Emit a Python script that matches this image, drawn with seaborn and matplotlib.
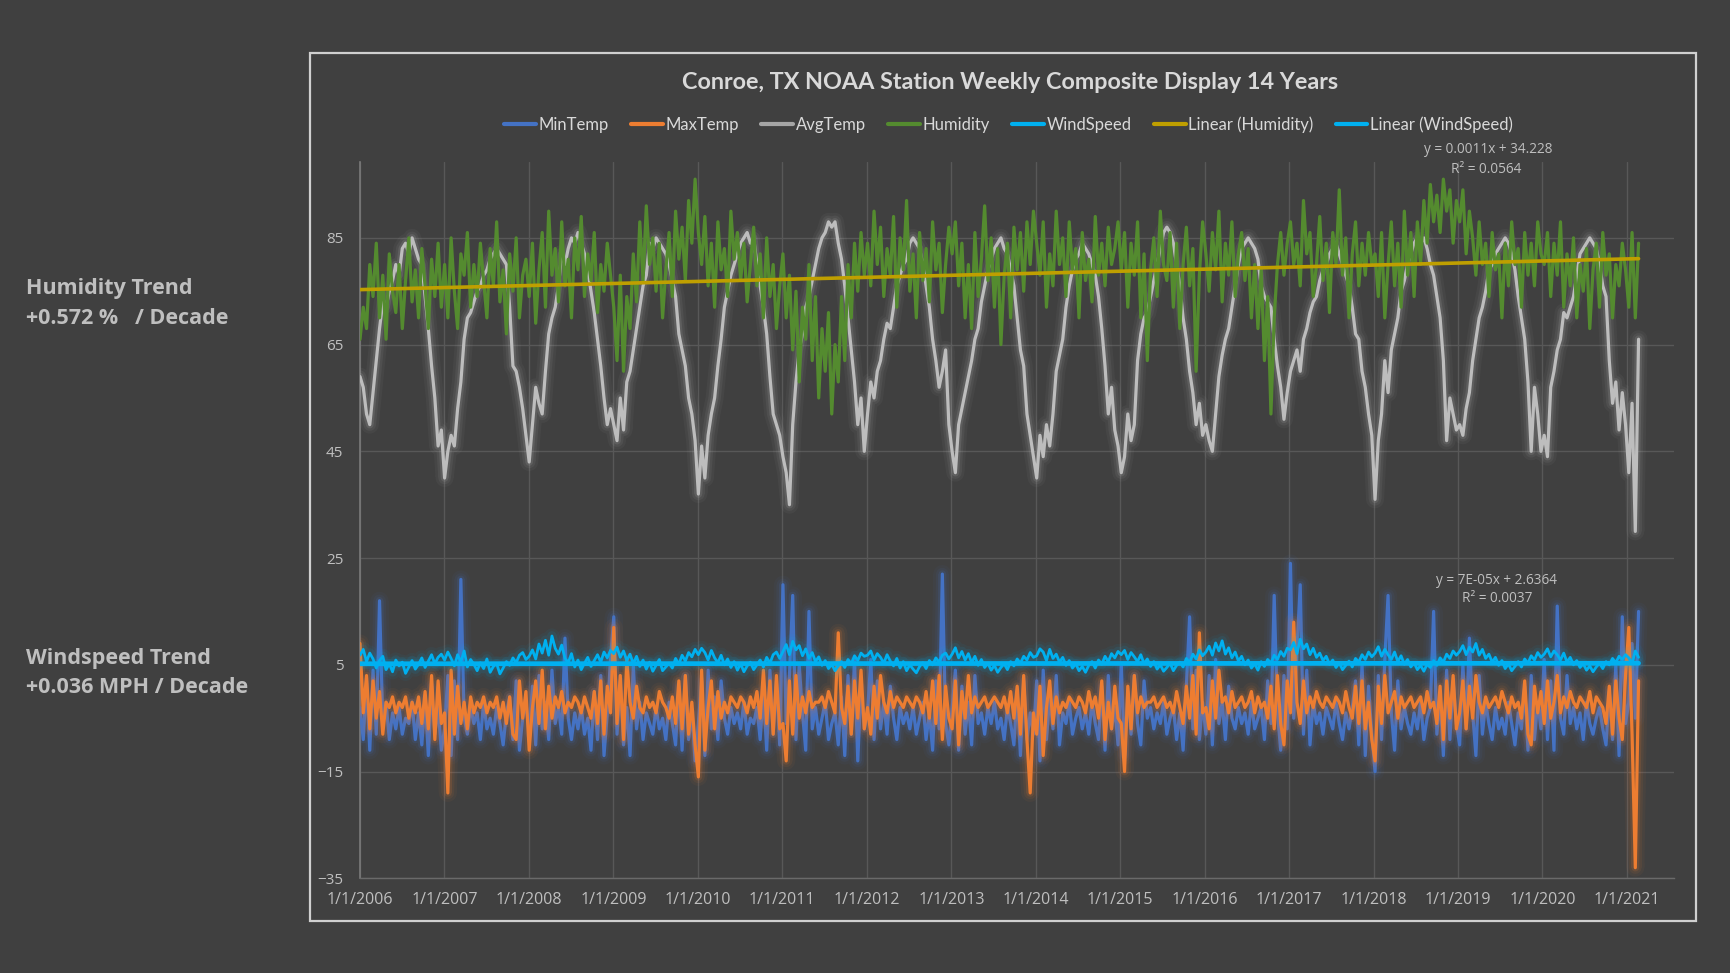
"""
Conroe, TX NOAA weekly composite - recreated chart
"""

import numpy as np
import pandas as pd
import matplotlib
matplotlib.use('Agg')
import matplotlib.pyplot as plt
import matplotlib.patheffects as pe
from matplotlib.lines import Line2D
from matplotlib.patches import Rectangle
import seaborn as sns

# values, roughly two points a month, one line per year
min_temp = [
    -3, -9, 2, -11, 4, -8, 17, -6, -2, -9, -4, -7, -3, -8, -5, -6, -2, -9, -4, -10, -1, -12, 1, -8, -3, -11,
    -7, 3, -12, 2, -9, 21, -5, -8, -3, -6, -4, -9, -2, -7, -5, -8, -3, -6, -10, -4, -1, -9, 2, -11, -5, -2,
    -8, 1, -10, 3, -7, -2, -9, 4, -6, -3, -8, 10, -5, -9, -4, -7, -3, -8, -5, -11, 0, -9, 3, -12, -4, 6,
    14, -8, 2, -10, -3, -12, 5, -7, -2, -9, -4, -6, -8, -3, -7, -5, -9, -2, -6, -10, 1, -11, 3, -9, -4, -13,
    -6, 2, -12, 4, -7, -1, -9, 2, -5, -8, -3, -6, -4, -7, -2, -8, -5, -6, -3, -9, 0, -11, 4, -8, 2, -10,
    20, -6, 3, 18, -9, 5, -4, -11, 15, -7, -3, -8, -5, -2, -9, -6, -4, -10, -1, -12, 3, -8, 6, -13, 1, -7,
    -4, 6, -9, 2, -7, -2, -8, 1, -5, -9, -3, -6, -4, -7, -3, -8, -5, -2, -9, -4, -11, 2, -7, 22, -6, -10,
    -3, 4, -11, 1, -8, -2, -10, 3, -6, -4, -8, -3, -6, -2, -7, -5, -9, -3, -6, -10, 0, -12, 2, -9, -4, -8,
    2, -13, 4, -9, -1, -7, 3, -10, -4, -6, -2, -8, -5, -3, -7, -4, -8, -2, -6, -9, 1, -11, 3, -7, -3, -10,
    5, -12, 0, -8, 3, -6, -10, 2, -5, -3, -7, -4, -6, -2, -8, -5, -3, -9, -4, -11, 1, 14, -7, 4, -9, -2,
    -8, 3, -10, 6, -6, -2, -9, 1, -5, -7, -3, -6, -4, -8, -2, -7, -5, -3, -9, 2, -6, 18, -4, -11, 3, -7,
    24, -5, 8, 20, -8, 4, -10, -2, -6, -4, -8, -3, -5, -7, -2, -6, -9, -4, -7, -3, 2, -10, 5, -12, 1, -8,
    -15, 3, -9, 6, 18, -4, -11, 2, -7, -3, -6, -8, -4, -7, -2, -9, -5, -3, 15, -8, -1, -12, 4, -9, 2, -6,
    -10, 5, -7, 10, -4, -12, 3, -8, -2, -6, -9, -3, -7, -5, -8, -2, -6, -10, -4, -7, 1, -11, 3, -9, -2, -7,
    6, -9, 2, -11, 16, -5, -8, 3, -6, -3, -7, -4, -9, -2, -6, -8, -5, -3, -7, -10, 0, -9, 5, -12, 14, -6,
    -2, 9, -5, 15,
]

max_temp = [
    9, -4, 3, -7, 2, -5, 0, -8, -2, -3, -1, -4, -2, -3, -1, -5, -2, -4, -1, -6, 0, -7, 3, -9, 2, -6,
    -4, -19, 4, -8, 1, -6, -2, -7, -1, -4, -2, -3, -1, -4, -2, -3, -1, -5, -2, -6, -1, -8, -9, 2, -5, 0,
    -11, -3, 2, -6, 4, -7, 1, -5, -1, -3, 0, -4, -2, -3, -1, -2, -4, -1, -3, -5, 0, -6, 2, -8, 1, -4,
    12, -6, 3, -9, 6, -2, -5, 1, -3, -4, -1, -3, -2, -4, 0, -2, -3, -5, -1, -6, 2, -7, 3, -8, -2, -10,
    -16, 4, -11, -3, 2, -7, 0, -5, -2, -4, -1, -2, -3, -1, -2, -4, -1, -3, 0, -5, 4, -6, 2, -8, 3, -7,
    -6, -13, 2, -8, 3, -5, -1, -4, 0, -3, -2, -2, -1, -3, 0, -2, -4, 11, -3, -6, 1, -8, 2, -5, 4, -7,
    -3, -8, 1, -5, 3, -2, -4, 0, -3, -1, -2, -3, -1, -2, -3, -1, -2, -4, 0, -5, 2, -6, 3, -9, 1, -5,
    -7, 2, -10, 0, -5, 3, -4, -1, -3, -2, -1, -3, -2, -1, -2, -3, -1, -4, 0, -5, 1, -8, 3, -9, -19, -4,
    -8, 1, -12, -3, 2, -6, -1, -4, -2, -3, -1, -2, -3, -1, -2, -4, 0, -3, -1, -5, 2, -9, -2, -7, 1, -5,
    -6, -15, 1, -7, 3, -4, -1, -3, -2, -2, -1, -3, -2, -1, -3, -2, -4, 0, -3, -6, 1, -5, 3, -8, 11, -4,
    -3, -7, 2, -5, 4, -2, -1, -4, 0, -3, -2, -1, -3, -2, 0, -4, -1, -3, -2, -5, 1, -7, 3, -6, -10, 2,
    -4, 13, -2, -6, 2, -4, -1, -3, 0, -2, -3, -1, -2, -3, -1, -2, -4, 0, -3, -5, 1, -6, 2, -7, -2, -9,
    -13, 1, -6, 3, -4, -2, 0, -5, -1, -3, -2, -1, -3, -2, -1, -4, 0, -3, -2, -6, 1, -9, 2, -5, 3, -7,
    -4, 2, -7, 1, -5, 3, -2, -4, -1, -3, -2, -1, -3, 0, -2, -4, -1, -3, -2, -5, 2, -8, -10, 1, -4, 0,
    -6, 2, -5, -2, 3, -4, -1, -3, 0, -2, -3, -1, -2, -3, 0, -4, -1, -2, -3, -6, 1, -8, 2, -5, -9, 3,
    12, -8, -33, 2,
]

avg_temp = [
    59, 57, 52, 50, 56, 62, 68, 73, 72, 75, 77, 80, 78, 83, 84, 82, 85, 83, 81, 80, 74, 68, 61, 55, 46, 49,
    40, 45, 48, 46, 53, 58, 66, 70, 71, 73, 75, 76, 78, 79, 81, 82, 83, 82, 81, 80, 72, 61, 60, 57, 53, 48,
    43, 50, 57, 54, 52, 60, 67, 70, 72, 76, 82, 80, 83, 85, 84, 86, 84, 82, 79, 75, 71, 66, 61, 55, 50, 53,
    50, 47, 55, 49, 58, 60, 64, 68, 72, 76, 78, 84, 83, 85, 84, 83, 82, 80, 77, 74, 67, 64, 61, 55, 52, 47,
    37, 46, 40, 48, 52, 55, 61, 66, 72, 75, 78, 80, 82, 84, 85, 86, 84, 85, 80, 76, 72, 67, 59, 52, 50, 48,
    44, 41, 35, 50, 58, 64, 67, 72, 74, 77, 80, 83, 85, 86, 88, 87, 88, 84, 81, 76, 70, 64, 58, 50, 55, 45,
    52, 58, 55, 60, 62, 66, 69, 68, 72, 76, 78, 80, 81, 84, 85, 84, 83, 80, 76, 72, 66, 62, 57, 60, 64, 50,
    45, 41, 50, 53, 56, 59, 62, 66, 68, 73, 76, 79, 81, 83, 84, 85, 83, 82, 79, 76, 70, 64, 61, 52, 48, 44,
    40, 48, 44, 50, 46, 52, 60, 63, 66, 72, 76, 79, 81, 82, 84, 83, 82, 80, 78, 74, 68, 61, 52, 57, 49, 46,
    41, 44, 52, 47, 50, 62, 67, 70, 71, 74, 77, 80, 83, 86, 87, 86, 84, 80, 76, 70, 66, 60, 56, 50, 54, 48,
    50, 47, 45, 52, 59, 63, 66, 68, 72, 76, 80, 83, 84, 85, 84, 83, 81, 76, 74, 73, 72, 66, 61, 57, 51, 56,
    60, 62, 64, 60, 66, 68, 71, 73, 74, 77, 79, 80, 82, 83, 84, 82, 80, 78, 76, 72, 67, 66, 60, 57, 52, 48,
    36, 47, 52, 62, 56, 64, 67, 70, 75, 77, 80, 82, 84, 85, 84, 85, 83, 80, 78, 74, 70, 62, 47, 55, 52, 49,
    50, 48, 53, 56, 62, 66, 70, 72, 75, 79, 80, 82, 83, 84, 85, 84, 82, 79, 74, 70, 66, 58, 45, 57, 52, 45,
    48, 44, 57, 60, 64, 66, 71, 70, 72, 74, 78, 82, 83, 84, 85, 84, 83, 80, 76, 74, 62, 54, 58, 49, 56, 50,
    41, 54, 30, 66,
]

humidity = [
    66, 72, 68, 80, 74, 84, 70, 78, 66, 82, 75, 71, 80, 68, 77, 85, 73, 79, 70, 83, 76, 68, 81, 74, 84, 72,
    80, 70, 85, 75, 68, 82, 78, 86, 72, 80, 74, 84, 77, 70, 83, 76, 88, 73, 79, 67, 82, 75, 85, 70, 78, 81,
    74, 84, 69, 79, 86, 72, 90, 78, 83, 73, 88, 76, 81, 70, 85, 79, 89, 74, 82, 77, 86, 71, 80, 75, 84, 78,
    72, 62, 78, 60, 74, 68, 82, 73, 88, 77, 91, 80, 85, 75, 84, 70, 79, 86, 74, 90, 81, 87, 77, 92, 84, 96,
    86, 80, 89, 76, 84, 72, 88, 79, 83, 74, 90, 81, 86, 77, 84, 73, 80, 87, 76, 82, 70, 85, 74, 80, 68, 76,
    82, 70, 78, 64, 75, 58, 72, 66, 80, 62, 74, 55, 68, 60, 71, 52, 65, 58, 74, 62, 80, 70, 84, 75, 86, 78,
    84, 76, 90, 80, 87, 74, 83, 78, 89, 72, 85, 79, 92, 75, 82, 70, 86, 77, 83, 73, 88, 79, 84, 71, 80, 87,
    82, 88, 76, 84, 70, 80, 68, 86, 74, 81, 91, 77, 85, 72, 83, 65, 78, 84, 70, 87, 79, 86, 75, 88, 80, 90,
    84, 78, 88, 72, 82, 76, 90, 80, 85, 74, 88, 79, 83, 70, 86, 77, 81, 73, 89, 78, 84, 76, 87, 80, 83, 88,
    79, 86, 72, 84, 78, 88, 70, 82, 62, 79, 85, 74, 90, 80, 77, 86, 72, 84, 68, 80, 87, 76, 83, 60, 78, 88,
    82, 75, 86, 79, 90, 73, 84, 78, 88, 74, 82, 86, 77, 83, 70, 80, 68, 79, 62, 74, 52, 70, 80, 86, 78, 84,
    88, 80, 84, 76, 92, 82, 86, 74, 80, 89, 77, 84, 71, 86, 80, 94, 78, 85, 70, 82, 88, 76, 84, 78, 86, 80,
    82, 74, 86, 70, 80, 88, 76, 84, 72, 90, 78, 86, 74, 88, 80, 92, 84, 95, 88, 93, 86, 96, 90, 94, 84, 92,
    88, 94, 82, 90, 85, 78, 88, 80, 84, 74, 86, 79, 82, 70, 84, 76, 88, 80, 83, 72, 86, 78, 84, 76, 88, 82,
    80, 86, 74, 84, 78, 88, 72, 82, 76, 85, 70, 80, 75, 83, 68, 79, 84, 72, 86, 78, 82, 70, 80, 76, 84, 79,
    72, 86, 70, 84,
]

wind_speed = [
    6.8, 7.9, 5.6, 7.2, 6.1, 4.4, 5.8, 6.6, 4.1, 5.2, 3.7, 5.9, 4.8, 5.5, 3.4, 4.6, 5.8, 4.2, 5.1, 6.3, 4.5, 5.7, 6.9, 5.2, 6.4, 7.0,
    5.9, 7.4, 6.2, 4.8, 6.9, 5.5, 7.6, 4.6, 6.0, 5.1, 3.9, 5.4, 4.3, 6.1, 3.6, 4.7, 5.2, 3.3, 4.4, 5.6, 4.9, 6.3, 5.4, 6.8, 7.3, 6.0,
    6.6, 7.8, 6.1, 8.9, 7.2, 9.6, 6.8, 10.4, 8.1, 7.0, 8.7, 6.2, 5.4, 7.1, 4.6, 5.9, 4.1, 5.3, 6.4, 4.7, 5.8, 6.9, 5.5, 7.4, 6.3, 7.7,
    7.1, 8.3, 6.4, 7.6, 5.8, 7.0, 5.2, 6.6, 4.7, 5.9, 4.2, 5.5, 3.8, 4.9, 6.0, 3.9, 4.6, 5.3, 4.4, 6.2, 5.1, 6.8, 5.7, 7.3, 6.5, 7.9,
    6.9, 8.1, 7.3, 5.9, 7.7, 6.3, 5.4, 6.8, 5.0, 6.1, 4.5, 5.6, 4.0, 5.2, 3.7, 4.8, 5.5, 4.1, 5.0, 5.9, 4.6, 6.4, 5.3, 6.9, 7.4, 6.2,
    7.5, 8.8, 6.9, 9.4, 7.8, 8.6, 6.7, 8.0, 6.2, 7.3, 5.6, 6.5, 4.9, 5.8, 4.3, 5.1, 3.9, 4.8, 5.6, 4.5, 6.0, 5.2, 6.7, 5.8, 7.2, 6.6,
    6.8, 7.6, 5.9, 7.1, 6.4, 5.3, 6.9, 5.7, 4.8, 6.2, 4.4, 5.6, 3.9, 5.0, 4.2, 3.5, 4.7, 5.4, 4.3, 5.8, 5.0, 6.3, 5.5, 6.8, 7.2, 6.1,
    7.0, 8.2, 6.3, 7.5, 5.9, 7.1, 5.4, 6.6, 4.9, 6.0, 4.5, 5.3, 4.0, 4.9, 3.6, 4.5, 5.2, 4.1, 5.6, 4.8, 6.1, 5.3, 6.6, 5.9, 7.3, 6.4,
    6.7, 8.0, 7.4, 5.8, 7.9, 6.2, 7.0, 5.5, 6.4, 4.9, 5.8, 4.4, 5.2, 3.9, 4.7, 3.6, 4.9, 5.6, 4.4, 5.9, 5.1, 6.6, 5.6, 7.1, 6.3, 7.5,
    6.9, 7.7, 6.0, 7.3, 6.5, 5.6, 6.9, 5.2, 6.1, 4.7, 5.6, 4.2, 5.0, 3.8, 4.5, 5.3, 3.9, 4.9, 5.5, 4.6, 6.2, 5.4, 7.0, 6.1, 7.8, 6.7,
    7.4, 8.5, 6.8, 9.1, 7.6, 9.5, 7.0, 8.2, 6.3, 7.4, 5.7, 6.6, 5.0, 5.9, 4.4, 5.2, 4.0, 5.6, 4.7, 6.0, 5.3, 6.8, 6.0, 7.5, 6.6, 8.1,
    7.8, 9.2, 7.1, 9.8, 8.0, 8.9, 6.9, 8.1, 6.4, 7.2, 5.8, 6.6, 5.1, 5.9, 4.5, 5.4, 4.1, 4.9, 5.7, 4.6, 6.2, 5.5, 6.9, 6.0, 7.4, 6.5,
    7.2, 8.4, 6.6, 7.9, 6.9, 6.0, 7.4, 5.6, 6.7, 5.1, 6.0, 4.6, 5.4, 4.1, 4.9, 3.8, 5.1, 4.5, 5.8, 4.9, 6.3, 5.5, 7.0, 6.2, 7.6, 6.8,
    7.5, 8.6, 6.9, 8.3, 7.4, 9.0, 6.8, 7.9, 6.2, 7.0, 5.5, 6.4, 4.9, 5.8, 4.3, 5.2, 3.9, 4.7, 5.6, 4.6, 6.1, 5.3, 6.7, 5.9, 7.3, 6.4,
    7.0, 8.0, 6.5, 7.6, 6.9, 5.9, 7.2, 5.5, 6.4, 5.0, 5.8, 4.5, 5.2, 4.0, 4.8, 3.7, 4.6, 5.3, 4.3, 5.6, 5.0, 6.2, 5.4, 6.6, 6.0, 6.9,
    6.3, 5.2, 7.6, 6.4,
]

# Excel linear trendlines (end values)
trend_dates = ['2006-01-01', '2021-02-20']
humidity_trend = [75.3, 81.1]
wind_trend = [5.2, 5.3]

year_ticks = list(range(2006, 2022))
y_ticks = [-35, -15, 5, 25, 45, 65, 85]

BG = '#404040'
TEXT = '#BFBFBF'

dates = pd.date_range('2006-01-01', '2021-02-20', periods=len(avg_temp))
df = pd.DataFrame({
    'Date': dates,
    'MinTemp': min_temp,
    'MaxTemp': max_temp,
    'AvgTemp': avg_temp,
    'Humidity': humidity,
    'WindSpeed': wind_speed,
})
trend = pd.DataFrame({
    'Date': pd.to_datetime(trend_dates),
    'Humidity': humidity_trend,
    'WindSpeed': wind_trend,
})

sns.set_theme(style='dark', rc={'axes.facecolor': BG, 'figure.facecolor': BG})
plt.rcParams['font.family'] = ['Open Sans', 'DejaVu Sans']


def glow(color, widths=(13, 9, 5.5), alphas=(0.05, 0.08, 0.14)):
    """soft halo like the Excel glow effect"""
    fx = [pe.Stroke(linewidth=w, foreground=color, alpha=a) for w, a in zip(widths, alphas)]
    return fx + [pe.Normal()]


fig = plt.figure(figsize=(17.3, 9.73), dpi=100, facecolor=BG)
ax = fig.add_axes([0.2081, 0.0973, 0.7595, 0.7367])
ax.set_facecolor(BG)

series = [
    ('MinTemp', '#4472C4', 2.3),
    ('MaxTemp', '#ED7D31', 2.3),
    ('AvgTemp', '#BDBDBD', 2.3),
    ('Humidity', '#548B2F', 2.3),
    ('WindSpeed', '#00B0F0', 2.0),
]
for z, (name, color, lw) in enumerate(series):
    if name == 'Humidity':
        effects = [pe.Normal()]
    elif name == 'WindSpeed':
        effects = glow(color, widths=(11, 7), alphas=(0.05, 0.09))
    else:
        effects = glow(color)
    sns.lineplot(data=df, x='Date', y=name, ax=ax, color=color, lw=lw,
                 estimator=None, legend=False, zorder=3 + z, path_effects=effects)

# trend lines
sns.lineplot(data=trend, x='Date', y='Humidity', ax=ax, color='#BF9F00', lw=2.6,
             estimator=None, legend=False, zorder=9)
sns.lineplot(data=trend, x='Date', y='WindSpeed', ax=ax, color='#00B0F0', lw=3.4,
             estimator=None, legend=False, zorder=10,
             path_effects=glow('#00B0F0', widths=(10, 7), alphas=(0.06, 0.1)))

ax.set_xlabel('')
ax.set_ylabel('')
ax.set_ylim(-35, 99.3)
ax.set_xlim(pd.Timestamp('2006-01-01'), pd.Timestamp('2021-07-23'))
ax.set_yticks(y_ticks)
tick_dates = [pd.Timestamp(f'{y}-01-01') for y in year_ticks]
ax.set_xticks(tick_dates)
ax.set_xticklabels([f'1/1/{y}' for y in year_ticks])
ax.grid(True, color='#585858', lw=1.0)
ax.set_axisbelow(True)
ax.tick_params(axis='both', length=0, colors=TEXT)
ax.tick_params(axis='x', pad=10, labelsize=11.5)
ax.tick_params(axis='y', pad=12, labelsize=11)
for side in ['top', 'right']:
    ax.spines[side].set_visible(False)
ax.spines['left'].set_color('#7A7A7A')
ax.spines['bottom'].set_color('#6A6A6A')
ax.spines['left'].set_linewidth(1.2)
ax.spines['bottom'].set_linewidth(1.0)

# chart area border
fig.add_artist(Rectangle((310 / 1730, 1 - 921 / 973), (1696 - 310) / 1730, (921 - 53) / 973,
                         transform=fig.transFigure, fill=False, edgecolor='#D0D0D0', lw=1.6))

fig.text(0.584, 0.9147, 'Conroe, TX NOAA Station Weekly Composite Display 14 Years',
         ha='center', va='center', fontsize=16.8, fontweight='bold', color='#D9D9D9',
         family=['Lato', 'DejaVu Sans'])

labels = ['MinTemp', 'MaxTemp', 'AvgTemp', 'Humidity', 'WindSpeed',
          'Linear (Humidity)', 'Linear (WindSpeed)']
colors = ['#4472C4', '#ED7D31', '#A5A5A5', '#548B2F', '#00B0F0', '#BF9F00', '#00B0F0']
handles = [Line2D([], [], color=c, lw=3) for c in colors]
leg = fig.legend(handles, labels, loc='center', bbox_to_anchor=(0.583, 0.8715), ncol=7,
                 frameon=False, labelcolor='#D9D9D9', handlelength=1.9,
                 handletextpad=0.15, columnspacing=1.35,
                 prop={'family': ['Lato', 'DejaVu Sans'], 'size': 12})

# trendline equations
fig.text(0.860, 0.846, 'y = 0.0011x + 34.228', ha='center', va='center', fontsize=9.8, color=TEXT)
fig.text(0.859, 0.826, 'R\u00b2 = 0.0564', ha='center', va='center', fontsize=9.8, color=TEXT)
fig.text(0.8653, 0.4039, 'y = 7E-05x + 2.6364', ha='center', va='center', fontsize=9.8, color=TEXT)
fig.text(0.8653, 0.3844, 'R\u00b2 = 0.0037', ha='center', va='center', fontsize=9.8, color=TEXT)

# side notes
side = dict(ha='left', va='center', fontsize=15.5, fontweight='bold', color=TEXT)
fig.text(0.015, 0.704, 'Humidity Trend', **side)
fig.text(0.015, 0.673, '+0.572 %   / Decade', **side)
fig.text(0.015, 0.3237, 'Windspeed Trend', **side)
fig.text(0.015, 0.2935, '+0.036 MPH / Decade', **side)

fig.savefig('out.png', dpi=100, facecolor=BG)
